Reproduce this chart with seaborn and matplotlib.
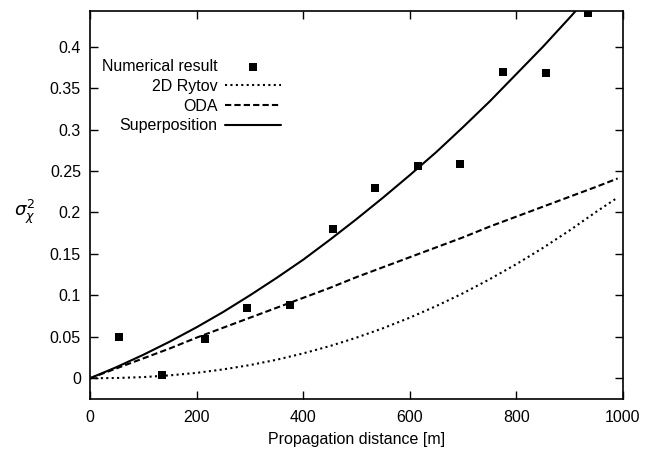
import matplotlib
matplotlib.use("Agg")
import matplotlib.pyplot as plt
import seaborn as sns
from matplotlib.ticker import FuncFormatter, MultipleLocator

# numerical simulation points
distance_num = [55, 135, 215, 295, 375, 455, 535, 615, 695, 775, 855, 935]
sigma_num = [0.050, 0.004, 0.047, 0.085, 0.088, 0.180, 0.230, 0.256,
             0.258, 0.370, 0.368, 0.440]

# theory curves
distance_curve = [0, 50, 100, 150, 200, 250, 300, 350, 400, 450, 500,
                  550, 600, 650, 700, 750, 800, 850, 900, 950, 990]
rytov = [0.0, 0.0003, 0.0014, 0.0035, 0.0065, 0.0107, 0.0159, 0.0223,
         0.030, 0.0388, 0.049, 0.0604, 0.0731, 0.0872, 0.1026, 0.1195,
         0.1377, 0.1573, 0.1784, 0.2009, 0.218]
oda = [0.0, 0.012, 0.024, 0.036, 0.049, 0.061, 0.073, 0.085, 0.097, 0.109,
       0.122, 0.134, 0.146, 0.158, 0.170, 0.183, 0.195, 0.207, 0.219,
       0.231, 0.241]
superposition = [0.0, 0.0135, 0.0283, 0.0443, 0.0615, 0.080, 0.100, 0.121,
                 0.143, 0.167, 0.192, 0.218, 0.245, 0.273, 0.303, 0.334,
                 0.367, 0.400, 0.435, 0.471, 0.501]

sns.set_theme(style="ticks")
plt.rcParams["font.family"] = ["Liberation Sans", "DejaVu Sans"]
plt.rcParams["text.color"] = "black"
plt.rcParams["axes.labelcolor"] = "black"

fig = plt.figure(figsize=(6.47, 4.49), dpi=100)
ax = fig.add_axes([0.1391, 0.1114, 0.8238, 0.8641])

sns.scatterplot(x=distance_num, y=sigma_num, marker="s", s=28, color="black",
                edgecolor="black", linewidth=0, label="Numerical result", ax=ax)
sns.lineplot(x=distance_curve, y=rytov, color="black", lw=1.5,
             linestyle=(0, (1, 1.6)), label="2D Rytov", ax=ax)
sns.lineplot(x=distance_curve, y=oda, color="black", lw=1.5,
             linestyle=(0, (3, 1.5)), label="ODA", ax=ax)
sns.lineplot(x=distance_curve, y=superposition, color="black", lw=1.5,
             label="Superposition", ax=ax)

ax.set_xlim(0, 1000)
ax.set_ylim(-0.025, 0.443)
ax.xaxis.set_major_locator(MultipleLocator(200))
ax.yaxis.set_major_locator(MultipleLocator(0.05))
ax.yaxis.set_major_formatter(FuncFormatter(lambda v, p: "%g" % round(v, 4)))
ax.tick_params(direction="in", length=6, width=1, top=True, right=True,
               labelsize=11.5, colors="black")
ax.tick_params(axis="x", pad=8)
ax.tick_params(axis="y", pad=6.5)
for s in ax.spines.values():
    s.set_linewidth(1.2)
    s.set_color("black")

ax.set_xlabel("Propagation distance [m]", fontsize=11.5, labelpad=5)
ax.set_ylabel(r"$\sigma_\chi^2$", fontsize=13, rotation=0)
ax.yaxis.set_label_coords(-0.122, 0.445)

leg = ax.legend(loc="upper right", bbox_to_anchor=(0.358, 0.876),
                frameon=False, markerfirst=False, fontsize=11.5,
                handlelength=3.5, handletextpad=0.45, labelspacing=0.3,
                borderpad=0, borderaxespad=0)
for col in leg._legend_box.get_children()[1].get_children():
    col.align = "right"
for t in leg.get_texts():
    t.set_color("black")

fig.savefig("out.png", dpi=100)
